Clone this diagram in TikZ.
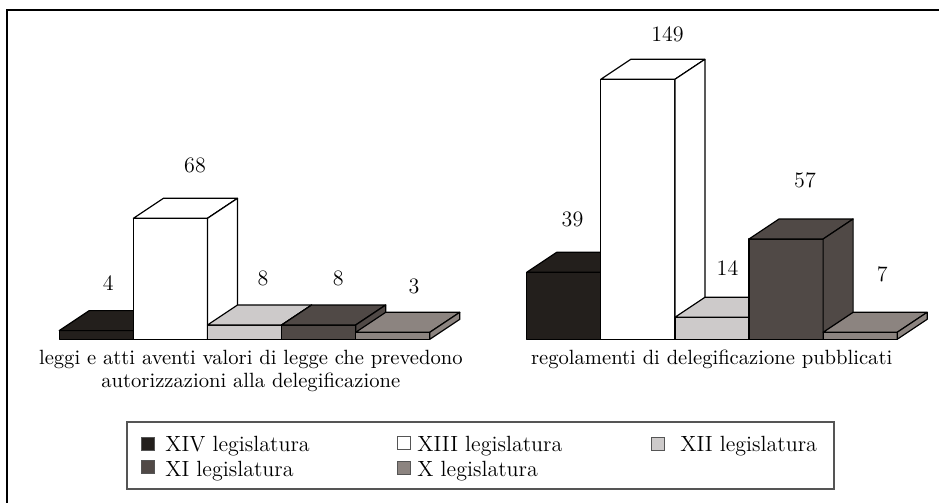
\documentclass[tikz,border=0pt]{standalone}
\definecolor{legXIV}{HTML}{231F1C}
\definecolor{legXIII}{HTML}{FFFFFF}
\definecolor{legXII}{HTML}{CDCACA}
\definecolor{legXI}{HTML}{504946}
\definecolor{legX}{HTML}{8C8480}
\definecolor{boxgray}{HTML}{555555}
\tikzset{
  face/.style={draw=black, line width=0.6pt, line join=round},
  val/.style={font=\fontsize{11}{12}\selectfont, inner sep=0pt},
  capt/.style={font=\fontsize{10.3}{11.5}\selectfont, align=center, inner sep=0pt},
  legsq/.style={draw=boxgray, line width=0.5pt, minimum size=6.5pt, inner sep=0pt},
  legtxt/.style={font=\fontsize{11}{12}\selectfont, anchor=base west, inner sep=0pt}
}
% one 3d bar: left edge, height, colour
\newcommand{\legbar}[3]{%
  \filldraw[face, fill=#3] (#1,339.3) rectangle ({#1+74.1},{339.3-#2});
  \filldraw[face, fill=#3] (#1,{339.3-#2}) -- ++(30,-20) -- ++(74.1,0) -- ++(-30,20) -- cycle;
  \filldraw[face, fill=#3] ({#1+74.1},339.3) -- ++(0,-#2) -- ++(30,-20) -- ++(0,#2) -- cycle;
}
\begin{document}
\begin{tikzpicture}[x=0.5pt, y=-0.5pt]
  \useasboundingbox (0,0) rectangle (939,503);
  \draw[line width=1pt] (7,503) -- (7,10) -- (939,10);

  % first chart
  \legbar{59.3}{8.7}{legXIV}
  \legbar{133.4}{121}{legXIII}
  \legbar{207.5}{14.3}{legXII}
  \legbar{281.6}{14.3}{legXI}
  \legbar{355.7}{7}{legX}
  \node[val] (la) at (108.3,283.3) {4};
  \node[val] (lb) at (195,165) {68};
  \node[val] (lc) at (263,278.3) {8};
  \node[val] (ld) at (338.3,278.3) {8};
  \node[val] (le) at (414,286) {3};
  \node[capt] (captl) at (250.8,371) {leggi e atti aventi valori di legge che prevedono\\autorizzazioni alla delegificazione};

  % second chart
  \legbar{526.7}{67}{legXIV}
  \legbar{600.8}{260}{legXIII}
  \legbar{674.9}{22}{legXII}
  \legbar{749}{100.3}{legXI}
  \legbar{823.1}{7}{legX}
  \node[val] (ra) at (572.5,219) {39};
  \node[val] (rb) at (667.5,34) {149};
  \node[val] (rc) at (727.5,268.5) {14};
  \node[val] (rd) at (805,180.5) {57};
  \node[val] (re) at (882.3,274) {7};
  \node[capt] (captr) at (711.7,359) {regolamenti di delegificazione pubblicati};

  % legend
  \draw[boxgray, line width=0.9pt] (127.3,422.3) rectangle (834.3,489);
  \node[legsq, fill=legXIV] (sqXIV) at (148,444) {};
  \node[legtxt] (tXIV) at (165,451) {XIV legislatura};
  \node[legsq, fill=legXIII] (sqXIII) at (403.5,443) {};
  \node[legtxt] (tXIII) at (417,451) {XIII legislatura};
  \node[legsq, fill=legXII] (sqXII) at (658,443.5) {};
  \node[legtxt] (tXII) at (680,451) {XII legislatura};
  \node[legsq, fill=legXI] (sqXI) at (148,467) {};
  \node[legtxt] (tXI) at (165,476) {XI legislatura};
  \node[legsq, fill=legX] (sqX) at (403.5,467.5) {};
  \node[legtxt] (tX) at (417,476) {X legislatura};
\end{tikzpicture}
\end{document}
